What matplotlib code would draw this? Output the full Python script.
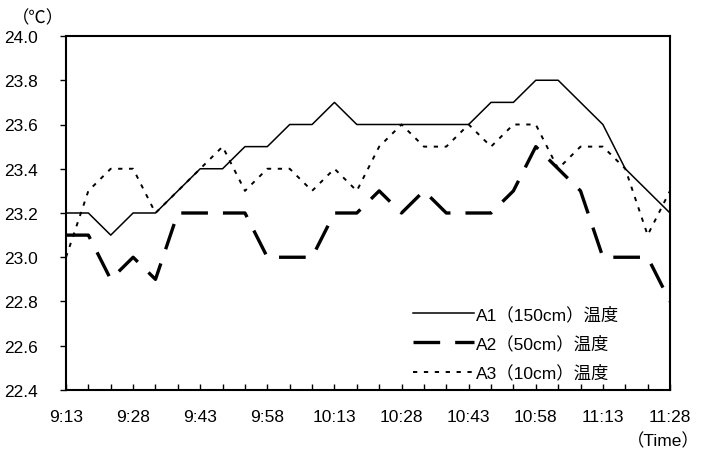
import matplotlib
matplotlib.use("Agg")
import matplotlib.pyplot as plt
from matplotlib.ticker import MultipleLocator

# sampling times (5 min step)
times = ["9:13", "9:18", "9:23", "9:28", "9:33", "9:38", "9:43",
         "9:48", "9:53", "9:58", "10:03", "10:08", "10:13", "10:18",
         "10:23", "10:28", "10:33", "10:38", "10:43", "10:48", "10:53",
         "10:58", "11:03", "11:08", "11:13", "11:18", "11:23", "11:28"]

# temperatures [deg C]
a1 = [23.2, 23.2, 23.1, 23.2, 23.2, 23.3, 23.4, 23.4, 23.5, 23.5,
      23.6, 23.6, 23.7, 23.6, 23.6, 23.6, 23.6, 23.6, 23.6, 23.7,
      23.7, 23.8, 23.8, 23.7, 23.6, 23.4, 23.3, 23.2]
a2 = [23.1, 23.1, 22.9, 23.0, 22.9, 23.2, 23.2, 23.2, 23.2, 23.0,
      23.0, 23.0, 23.2, 23.2, 23.3, 23.2, 23.3, 23.2, 23.2, 23.2,
      23.3, 23.5, 23.4, 23.3, 23.0, 23.0, 23.0, 22.8]
a3 = [23.0, 23.3, 23.4, 23.4, 23.2, 23.3, 23.4, 23.5, 23.3, 23.4,
      23.4, 23.3, 23.4, 23.3, 23.5, 23.6, 23.5, 23.5, 23.6, 23.5,
      23.6, 23.6, 23.4, 23.5, 23.5, 23.4, 23.1, 23.3]

labels = ["A1（150cm）温度", "A2（50cm）温度", "A3（10cm）温度"]

fonts = ["Liberation Sans", "Noto Sans CJK JP", "DejaVu Sans"]
plt.rcParams["font.family"] = fonts
plt.rcParams["font.size"] = 12.5

fig = plt.figure(figsize=(7.07, 4.56), dpi=100)
ax = fig.add_axes([66 / 707, 1 - 391 / 456, 604 / 707, 354 / 456])

x = list(range(len(times)))
ax.plot(x, a1, color="black", lw=1.1, label=labels[0])
ax.plot(x, a2, color="black", lw=2.4, dashes=(8, 4.5), label=labels[1])
ax.plot(x, a3, color="black", lw=1.4, dashes=(2.2, 3.4), label=labels[2])

ax.set_xlim(0, len(times) - 1)
ax.set_ylim(22.4, 24.0)
ax.yaxis.set_major_locator(MultipleLocator(0.2))
ax.yaxis.set_major_formatter(matplotlib.ticker.FormatStrFormatter("%.1f"))

major = x[::3]
ax.set_xticks(major)
ax.set_xticklabels([times[i] for i in major])
ax.set_xticks(x, minor=True)

ax.tick_params(axis="x", which="both", direction="in", length=4, width=1,
               pad=14)
ax.tick_params(axis="y", direction="out", length=4, width=1, pad=16)
for sp in ax.spines.values():
    sp.set_linewidth(1.5)

fig.text(12 / 707, 1 - 18 / 456, "（℃）", ha="left", va="center")
fig.text(700 / 707, 1 - 441 / 456, "（Time）", ha="right", va="center")

ax.legend(loc="lower left", bbox_to_anchor=(0.555, -0.008), frameon=False,
          handlelength=3.5, handletextpad=0.1, labelspacing=0.72,
          borderaxespad=0.3)

fig.savefig("out.png", dpi=100)
